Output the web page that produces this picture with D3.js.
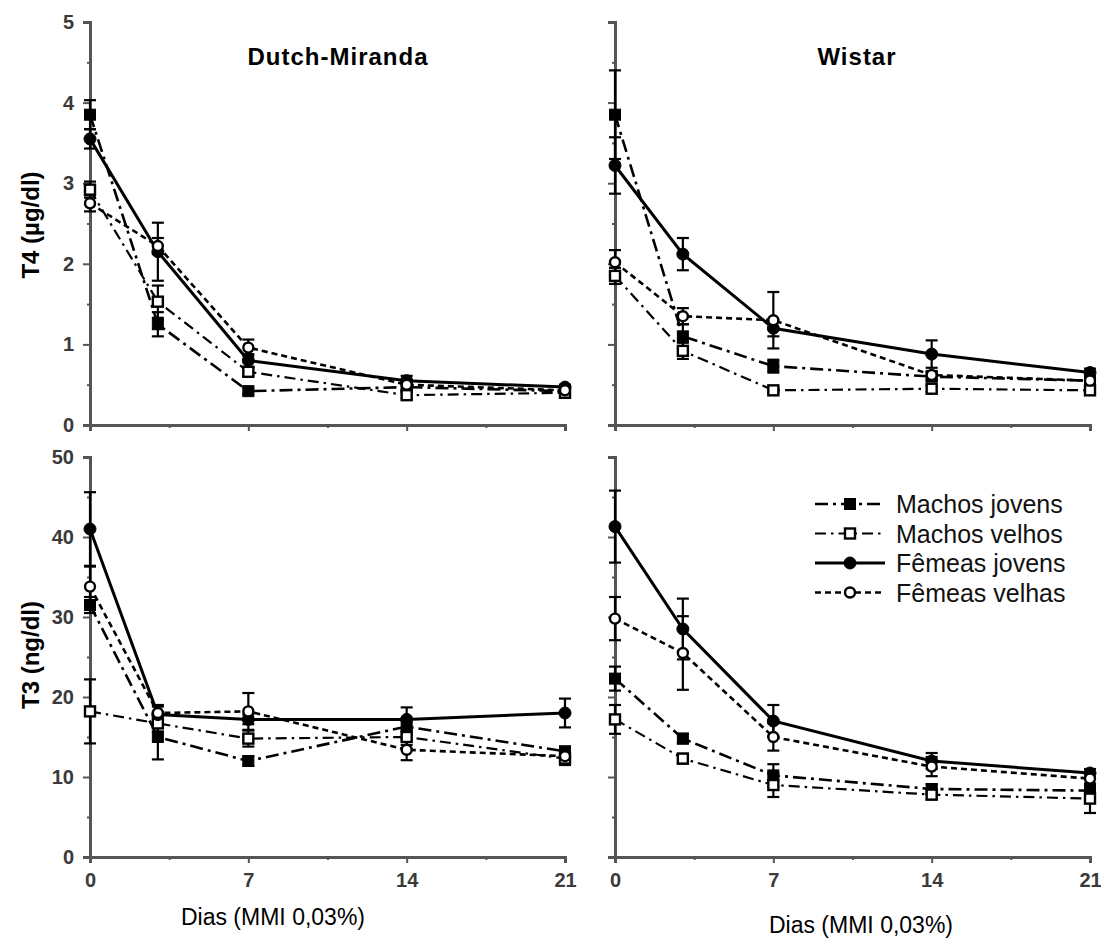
<!DOCTYPE html>
<html>
<head>
<meta charset="utf-8">
<script src="https://cdn.jsdelivr.net/npm/d3@7"></script>
<style>
  html, body { margin: 0; padding: 0; background: #fff; }
  svg { display: block; }
  text { font-family: "Liberation Sans", Arial, sans-serif; }
</style>
</head>
<body>
<svg id="chart" width="1101" height="939"></svg>
<script>
// Sampling days of MMI treatment
const days = [0, 3, 7, 14, 21];
const dayTicks = [0, 7, 14, 21];
const dayMinorTicks = [3.5, 10.5, 17.5];

const seriesNames = ["Machos jovens", "Machos velhos", "Fêmeas jovens", "Fêmeas velhas"];
const strains = ["Dutch-Miranda", "Wistar"];

// T4 (µg/dl) — Dutch-Miranda
const dmT4MachosJovens = [3.85, 1.25, 0.42, 0.47, 0.42];
const dmT4MachosVelhos = [2.92, 1.53, 0.66, 0.37, 0.40];
const dmT4FemeasJovens = [3.55, 2.15, 0.80, 0.55, 0.47];
const dmT4FemeasVelhas = [2.75, 2.22, 0.96, 0.50, 0.43];
const dmT4MachosJovensErr = [0.18, 0.15, 0.04, 0.05, 0.03];
const dmT4MachosVelhosErr = [0.10, 0.20, 0.05, 0.04, 0.03];
const dmT4FemeasJovensErr = [0.12, 0.36, 0.08, 0.06, 0.03];
const dmT4FemeasVelhasErr = [0.10, 0.10, 0.10, 0.05, 0.03];

// T4 (µg/dl) — Wistar
const wiT4MachosJovens = [3.85, 1.10, 0.73, 0.60, 0.55];
const wiT4MachosVelhos = [1.85, 0.92, 0.43, 0.45, 0.43];
const wiT4FemeasJovens = [3.22, 2.12, 1.20, 0.88, 0.65];
const wiT4FemeasVelhas = [2.02, 1.35, 1.30, 0.62, 0.55];
const wiT4MachosJovensErr = [0.55, 0.15, 0.08, 0.05, 0.04];
const wiT4MachosVelhosErr = [0.10, 0.10, 0.03, 0.04, 0.04];
const wiT4FemeasJovensErr = [0.35, 0.20, 0.10, 0.17, 0.05];
const wiT4FemeasVelhasErr = [0.15, 0.10, 0.35, 0.05, 0.04];

// T3 (ng/dl) — Dutch-Miranda
const dmT3MachosJovens = [31.5, 15.0, 12.0, 16.3, 13.2];
const dmT3MachosVelhos = [18.2, 16.7, 14.8, 15.0, 12.3];
const dmT3FemeasJovens = [41.0, 17.8, 17.2, 17.2, 18.0];
const dmT3FemeasVelhas = [33.8, 18.0, 18.2, 13.4, 12.6];
const dmT3MachosJovensErr = [1.0, 2.8, 0.6, 1.0, 0.6];
const dmT3MachosVelhosErr = [4.0, 1.0, 1.0, 1.0, 0.8];
const dmT3FemeasJovensErr = [4.6, 1.0, 0.6, 1.5, 1.8];
const dmT3FemeasVelhasErr = [2.5, 1.0, 2.3, 1.3, 0.8];

// T3 (ng/dl) — Wistar
const wiT3MachosJovens = [22.3, 14.8, 10.2, 8.5, 8.3];
const wiT3MachosVelhos = [17.2, 12.3, 9.0, 7.8, 7.3];
const wiT3FemeasJovens = [41.3, 28.5, 17.0, 12.0, 10.5];
const wiT3FemeasVelhas = [29.8, 25.5, 15.0, 11.3, 9.8];
const wiT3MachosJovensErr = [1.5, 0.6, 1.4, 0.6, 0.6];
const wiT3MachosVelhosErr = [1.8, 0.6, 1.5, 0.6, 1.8];
const wiT3FemeasJovensErr = [4.5, 3.8, 2.0, 1.0, 0.5];
const wiT3FemeasVelhasErr = [2.7, 4.6, 1.7, 1.2, 0.6];

// Axis ticks per hormone
const t4Ticks = [0, 1, 2, 3, 4, 5];
const t4MinorTicks = [0.5, 1.5, 2.5, 3.5, 4.5];
const t3Ticks = [0, 10, 20, 30, 40, 50];
const t3MinorTicks = [5, 15, 25, 35, 45];

// ---------- assemble panels ----------
const panels = [
  { strain: 0, row: 0, ticks: t4Ticks, minor: t4MinorTicks, max: 5,
    values: [dmT4MachosJovens, dmT4MachosVelhos, dmT4FemeasJovens, dmT4FemeasVelhas],
    errors: [dmT4MachosJovensErr, dmT4MachosVelhosErr, dmT4FemeasJovensErr, dmT4FemeasVelhasErr] },
  { strain: 1, row: 0, ticks: t4Ticks, minor: t4MinorTicks, max: 5,
    values: [wiT4MachosJovens, wiT4MachosVelhos, wiT4FemeasJovens, wiT4FemeasVelhas],
    errors: [wiT4MachosJovensErr, wiT4MachosVelhosErr, wiT4FemeasJovensErr, wiT4FemeasVelhasErr] },
  { strain: 0, row: 1, ticks: t3Ticks, minor: t3MinorTicks, max: 50,
    values: [dmT3MachosJovens, dmT3MachosVelhos, dmT3FemeasJovens, dmT3FemeasVelhas],
    errors: [dmT3MachosJovensErr, dmT3MachosVelhosErr, dmT3FemeasJovensErr, dmT3FemeasVelhasErr] },
  { strain: 1, row: 1, ticks: t3Ticks, minor: t3MinorTicks, max: 50,
    values: [wiT3MachosJovens, wiT3MachosVelhos, wiT3FemeasJovens, wiT3FemeasVelhas],
    errors: [wiT3MachosJovensErr, wiT3MachosVelhosErr, wiT3FemeasJovensErr, wiT3FemeasVelhasErr] }
];

// Layout
const colX = [[90, 565], [615, 1090]];
const rowY = [[425, 22], [857, 457]];
const axisColor = "#555";

// Line / marker styles for the four groups
const styles = [
  { dash: "13,5,3,5", width: 2.6, shape: "square", fill: "#000" },
  { dash: "11,5,2.5,5", width: 2.2, shape: "square", fill: "#fff" },
  { dash: null, width: 3.0, shape: "circle", fill: "#000" },
  { dash: "6,4", width: 2.6, shape: "circle", fill: "#fff" }
];

const svg = d3.select("#chart");

function drawMarker(g, style, cx, cy) {
  if (style.shape === "square") {
    const s = style.fill === "#000" ? 11 : 10;
    g.append("rect")
      .attr("x", cx - s / 2).attr("y", cy - s / 2)
      .attr("width", s).attr("height", s)
      .attr("fill", style.fill)
      .attr("stroke", "#000").attr("stroke-width", style.fill === "#000" ? 1 : 2.4);
  } else {
    const r = style.fill === "#000" ? 6 : 5;
    g.append("circle")
      .attr("cx", cx).attr("cy", cy).attr("r", r)
      .attr("fill", style.fill)
      .attr("stroke", "#000").attr("stroke-width", style.fill === "#000" ? 1 : 2.4);
  }
}

panels.forEach(p => {
  const x = d3.scaleLinear().domain([0, 21]).range(colX[p.strain]);
  const y = d3.scaleLinear().domain([0, p.max]).range(rowY[p.row]);
  const g = svg.append("g");
  const showYLabels = p.strain === 0;
  const showXLabels = p.row === 1;

  // y axis: major + minor ticks
  g.append("g").attr("transform", `translate(${x(0)},0)`)
    .call(d3.axisLeft(y).tickValues(p.ticks).tickSize(7).tickPadding(9)
      .tickFormat(showYLabels ? d3.format("d") : () => ""));
  g.append("g").attr("transform", `translate(${x(0)},0)`)
    .call(d3.axisLeft(y).tickValues(p.minor).tickSize(3).tickFormat(() => ""))
    .call(a => a.select(".domain").remove());

  // x axis: major + minor ticks
  g.append("g").attr("transform", `translate(0,${y(0)})`)
    .call(d3.axisBottom(x).tickValues(dayTicks).tickSize(6).tickPadding(10)
      .tickFormat(showXLabels ? d3.format("d") : () => ""));
  g.append("g").attr("transform", `translate(0,${y(0)})`)
    .call(d3.axisBottom(x).tickValues(dayMinorTicks).tickSize(3).tickFormat(() => ""))
    .call(a => a.select(".domain").remove());

  g.selectAll(".domain").attr("stroke", axisColor).attr("stroke-width", 3);
  g.selectAll(".tick line").attr("stroke", axisColor).attr("stroke-width", 2);
  g.selectAll(".tick text")
    .attr("fill", "#3a3a3a")
    .style("font-size", "20px")
    .style("font-weight", "bold");

  const line = d3.line().x((d, i) => x(days[i])).y(d => y(d));

  // series lines
  p.values.forEach((vals, si) => {
    const st = styles[si];
    g.append("path")
      .attr("d", line(vals))
      .attr("fill", "none")
      .attr("stroke", "#000")
      .attr("stroke-width", st.width)
      .attr("stroke-dasharray", st.dash);
  });

  // error bars
  p.values.forEach((vals, si) => {
    vals.forEach((v, i) => {
      const e = p.errors[si][i];
      if (!e) return;
      const cx = x(days[i]);
      const y1 = y(v + e), y2 = y(v - e);
      g.append("line").attr("x1", cx).attr("x2", cx).attr("y1", y1).attr("y2", y2)
        .attr("stroke", "#000").attr("stroke-width", 2.2);
      [y1, y2].forEach(yy => g.append("line")
        .attr("x1", cx - 6).attr("x2", cx + 6).attr("y1", yy).attr("y2", yy)
        .attr("stroke", "#000").attr("stroke-width", 2.2));
    });
  });

  // markers
  p.values.forEach((vals, si) => {
    vals.forEach((v, i) => drawMarker(g, styles[si], x(days[i]), y(v)));
  });

  // strain title on top row
  if (p.row === 0) {
    const cx = p.strain === 0 ? 338 : 857;
    svg.append("text")
      .attr("x", cx).attr("y", 65)
      .attr("text-anchor", "middle")
      .style("font-size", "24px").style("font-weight", "bold")
      .style("letter-spacing", "1px")
      .text(strains[p.strain]);
  }
});

// y axis titles
[["T4 (µg/dl)", 225], ["T3 (ng/dl)", 655]].forEach(([label, cy]) => {
  svg.append("text")
    .attr("transform", `translate(39,${cy}) rotate(-90)`)
    .attr("text-anchor", "middle")
    .style("font-size", "24px").style("font-weight", "bold")
    .text(label);
});

// x axis titles
[[273, 925], [861, 933]].forEach(([cx, cy]) => {
  svg.append("text")
    .attr("x", cx).attr("y", cy)
    .attr("text-anchor", "middle")
    .style("font-size", "23px")
    .text("Dias (MMI 0,03%)");
});

// legend
const legend = svg.append("g");
seriesNames.forEach((name, i) => {
  const st = styles[i];
  const ly = 504 + i * 29.5;
  legend.append("line")
    .attr("x1", 815).attr("x2", 885).attr("y1", ly).attr("y2", ly)
    .attr("stroke", "#000").attr("stroke-width", st.width)
    .attr("stroke-dasharray", st.dash);
  drawMarker(legend, st, 850, ly);
  legend.append("text")
    .attr("x", 896).attr("y", ly + 9)
    .attr("fill", "#111")
    .style("font-size", "25px")
    .text(name);
});
</script>
</body>
</html>
